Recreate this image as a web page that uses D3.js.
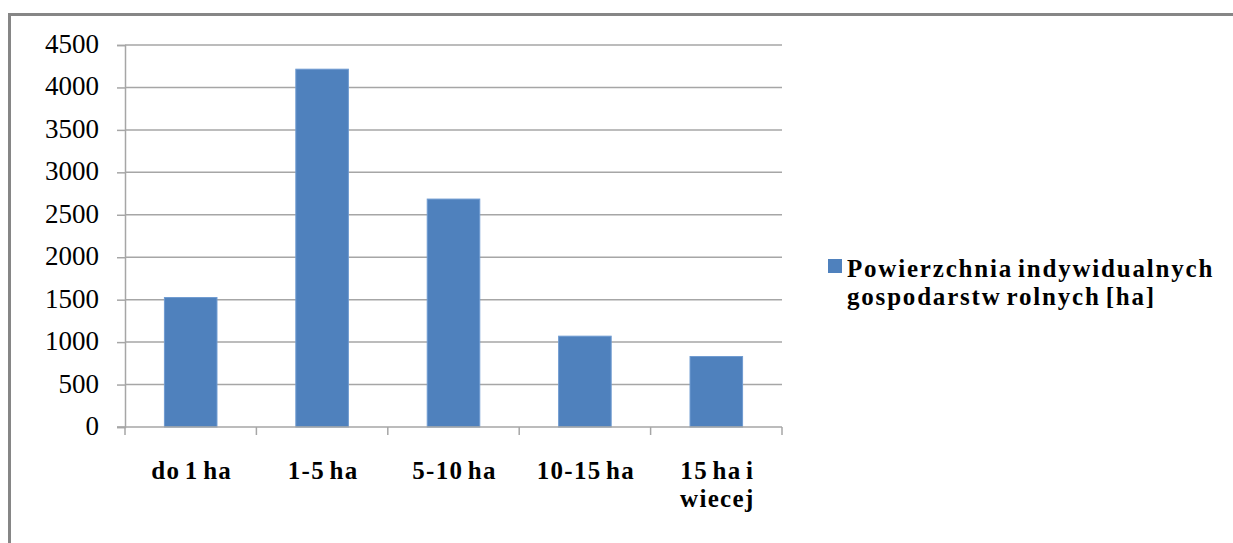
<!DOCTYPE html>
<html>
<head>
<meta charset="utf-8">
<script src="https://cdn.jsdelivr.net/npm/d3@7"></script>
<style>
  html, body { margin: 0; padding: 0; background: #fff; }
  svg { display: block; }
</style>
</head>
<body>
<svg id="chart" width="1233" height="543"></svg>
<script>
const categories = ["do 1 ha", "1-5 ha", "5-10 ha", "10-15 ha", "15 ha i\nwiecej"];
const values = [1525, 4215, 2685, 1070, 830];
const seriesName = ["Powierzchnia indywidualnych", "gospodarstw rolnych [ha]"];
const yTicks = [0, 500, 1000, 1500, 2000, 2500, 3000, 3500, 4000, 4500];

const W = 1233, H = 543;
const plot = { left: 125, right: 782, top: 45, bottom: 427 };
const FONT = "Liberation Serif";
const barColor = "#4f81bd";
const gridColor = "#a6a6a6";

const svg = d3.select("#chart");

// outer frame (only top and left visible)
svg.append("path")
  .attr("d", `M9.5,${H} L9.5,14.5 L${W},14.5`)
  .attr("fill", "none")
  .attr("stroke", "#868686")
  .attr("stroke-width", 3);

const x = d3.scaleBand()
  .domain(categories)
  .range([plot.left, plot.right])
  .paddingInner(0.6)
  .paddingOuter(0.3);

const y = d3.scaleLinear()
  .domain([0, 4500])
  .range([plot.bottom, plot.top]);

// y axis with ticks
const yAxis = d3.axisLeft(y).tickValues(yTicks).tickSize(8).tickFormat("");
const gy = svg.append("g").attr("transform", `translate(${plot.left},0)`).call(yAxis);
gy.select(".domain").attr("stroke", gridColor).attr("stroke-width", 1.5);
gy.selectAll(".tick line").attr("stroke", gridColor).attr("stroke-width", 1.5);

// gridlines
svg.append("g").selectAll("line").data(yTicks.filter(d => d > 0)).join("line")
  .attr("x1", plot.left).attr("x2", plot.right)
  .attr("y1", d => y(d)).attr("y2", d => y(d))
  .attr("stroke", gridColor).attr("stroke-width", 1.5);

// y labels
svg.append("g").selectAll("text").data(yTicks).join("text")
  .attr("x", 99)
  .attr("y", d => y(d) + 8)
  .attr("text-anchor", "end")
  .style("font-family", FONT)
  .style("font-size", "27px")
  .attr("fill", "#000")
  .text(d => d);

// bars
svg.append("g").selectAll("rect").data(values).join("rect")
  .attr("x", (d, i) => x(categories[i]))
  .attr("width", x.bandwidth())
  .attr("y", d => y(d))
  .attr("height", d => y(0) - y(d))
  .attr("fill", barColor)
  .attr("stroke", "#6f9bd1")
  .attr("stroke-width", 1);

// x axis line and tick marks at band boundaries
const boundaries = d3.range(categories.length + 1).map(i => plot.left + i * (plot.right - plot.left) / categories.length);
svg.append("line")
  .attr("x1", plot.left - 8).attr("x2", plot.right)
  .attr("y1", y(0)).attr("y2", y(0))
  .attr("stroke", gridColor).attr("stroke-width", 1.5);
svg.append("g").selectAll("line").data(boundaries).join("line")
  .attr("x1", d => d).attr("x2", d => d)
  .attr("y1", y(0)).attr("y2", y(0) + 8)
  .attr("stroke", gridColor).attr("stroke-width", 1.5);

// x labels
const xl = svg.append("g").selectAll("text").data(categories).join("text")
  .attr("transform", d => `translate(${x(d) + x.bandwidth() / 2 + 1},479)`)
  .attr("text-anchor", "middle")
  .style("font-family", FONT)
  .style("font-size", "25px")
  .style("font-weight", "bold")
  .style("letter-spacing", "1.3px")
  .style("word-spacing", "-3px")
  .attr("fill", "#000");
xl.each(function(d) {
  const lines = d.split("\n");
  d3.select(this).selectAll("tspan").data(lines).join("tspan")
    .attr("x", 0)
    .attr("dy", (l, i) => i === 0 ? 0 : 28)
    .text(l => l);
});

// legend
svg.append("rect")
  .attr("x", 828).attr("y", 259).attr("width", 14).attr("height", 14)
  .attr("fill", barColor);
const lg = svg.append("text")
  .attr("transform", "translate(847,277)")
  .style("font-family", FONT)
  .style("font-size", "25px")
  .style("font-weight", "bold")
  .style("letter-spacing", "1.8px")
  .style("word-spacing", "-3px")
  .attr("fill", "#000");
lg.selectAll("tspan").data(seriesName).join("tspan")
  .attr("x", 0)
  .attr("dy", (l, i) => i === 0 ? 0 : 28)
  .text(l => l);
</script>
</body>
</html>
